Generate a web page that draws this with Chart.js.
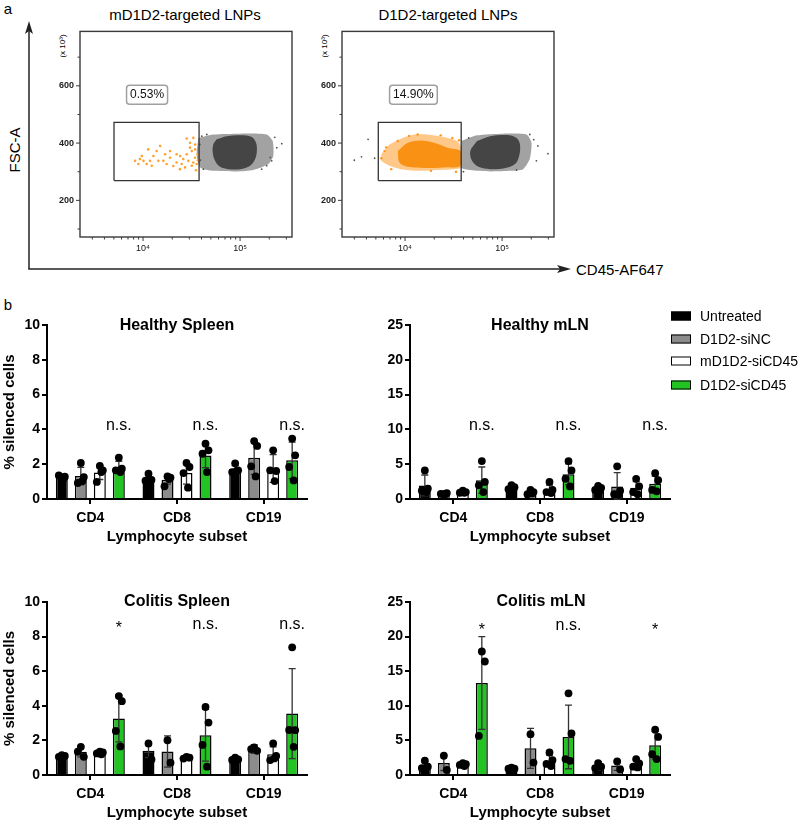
<!DOCTYPE html>
<html>
<head>
<meta charset="utf-8">
<script src="https://cdn.jsdelivr.net/npm/chart.js@4.4.0/dist/chart.umd.min.js"></script>
<style>
body{margin:0;background:#fff;font-family:"Liberation Sans",Arial,sans-serif;}
#page{position:relative;width:800px;height:825px;overflow:hidden;background:#fff;}
canvas{position:absolute;}
.t{position:absolute;white-space:nowrap;transform:translate(-50%,-50%);color:#000;line-height:1;}
.l{position:absolute;white-space:nowrap;transform:translate(0,-50%);color:#000;line-height:1;}
.rot{transform:translate(-50%,-50%) rotate(-90deg);}
.ttl{font-weight:bold;font-size:16px;}
.leg{position:absolute;left:671px;width:18px;height:7px;border:1.5px solid #000;transform:translate(0,-50%);}
</style>
</head>
<body>
<div id="page">
  <!-- panel a -->
  <div class="t" style="left:8px;top:8px;font-size:15px;">a</div>
  <div class="t" style="left:185px;top:14px;font-size:15px;">mD1D2-targeted LNPs</div>
  <div class="t" style="left:448px;top:14px;font-size:15px;">D1D2-targeted LNPs</div>
  <div class="t rot" style="left:14px;top:150px;font-size:15px;">FSC-A</div>
  <div class="l" style="left:576px;top:269px;font-size:15px;">CD45-AF647</div>
  <div class="t rot" style="left:63px;top:46px;font-size:8px;">(x 10³)</div>
  <div class="t rot" style="left:325px;top:46px;font-size:8px;">(x 10³)</div>
  <svg style="position:absolute;left:0;top:0" width="600" height="280">
    <line x1="29" y1="269" x2="29" y2="30" stroke="#222" stroke-width="1.5"/>
    <polygon points="29,21 25,34 29,31 33,34" fill="#222"/>
    <line x1="28.3" y1="269" x2="562" y2="269" stroke="#222" stroke-width="1.5"/>
    <polygon points="571,269 557,265 560,269 557,273" fill="#222"/>
  </svg>
  <canvas id="flowMd" width="262" height="245" style="left:40px;top:20px;"></canvas>
  <canvas id="flowD" width="262" height="245" style="left:302px;top:20px;"></canvas>

  <!-- panel b -->
  <div class="t" style="left:8px;top:304px;font-size:15px;">b</div>
  <canvas id="hs" width="340" height="249" style="left:0px;top:300px;"></canvas>
  <canvas id="hm" width="340" height="249" style="left:363px;top:300px;"></canvas>
  <canvas id="cs" width="340" height="248" style="left:0px;top:577px;"></canvas>
  <canvas id="cm" width="340" height="248" style="left:363px;top:577px;"></canvas>
  <div class="t ttl" style="left:177px;top:325px;">Healthy Spleen</div>
  <div class="t ttl" style="left:540px;top:325px;">Healthy mLN</div>
  <div class="t ttl" style="left:177px;top:601px;">Colitis Spleen</div>
  <div class="t ttl" style="left:541px;top:601px;">Colitis mLN</div>
  <div id="legend"></div>
</div>

<script>
// ---- panel a : flow cytometry (x = CD45-AF647, y = FSC-A x10^3) ----
const flowXMajor = [1e4, 1e5];
const flowXLabels = ['10⁴', '10⁵'];
const flowXMinor = [3000, 4000, 5000, 6000, 7000, 8000, 9000, 20000, 30000, 40000, 50000, 60000, 70000, 80000, 90000, 200000, 300000];
const flowYMajor = [200, 400, 600];
const flowYMinor = [100, 300, 500, 700];

const mdPercent = '0.53%';
const dPercent = '14.90%';

const mdGate = [{x:5020,y:269},{x:37800,y:269},{x:37800,y:472},{x:5020,y:472},{x:5020,y:269}];
const dGate = [{x:5300,y:269},{x:37900,y:269},{x:37900,y:472},{x:5300,y:472},{x:5300,y:269}];

// orange (gated) events, left plot
const mdOrange = [
  {x:28200,y:416},{x:33000,y:418},{x:34400,y:395},{x:30500,y:384},{x:31800,y:372},{x:28200,y:361},
  {x:24100,y:355},{x:26000,y:344},{x:29300,y:338},{x:33000,y:332},{x:25000,y:327},{x:22200,y:332},
  {x:19000,y:349},{x:16900,y:361},{x:15000,y:390},{x:13800,y:372},{x:12800,y:355},{x:11800,y:338},
  {x:12300,y:321},{x:10900,y:327},{x:10100,y:338},{x:9300,y:344},{x:8950,y:327},{x:9700,y:355},
  {x:11300,y:378},{x:17500,y:327},{x:16200,y:338},{x:22200,y:361},{x:27100,y:315},{x:24000,y:309},
  {x:8270,y:338},{x:34400,y:349},{x:35700,y:327},{x:31800,y:321},{x:34400,y:378},{x:19000,y:372},
  {x:14400,y:338},{x:30500,y:401},{x:36500,y:360},{x:36800,y:340},{x:35200,y:305},{x:20500,y:320}
];
// grey (ungated) population, left plot
const mdGreyCore = [
  {x:57500,y:413},{x:72900,y:424},{x:100000,y:427},{x:132000,y:421},{x:146000,y:401},{x:149000,y:372},
  {x:143000,y:344},{x:127000,y:321},{x:100000,y:309},{x:75800,y:309},{x:62200,y:317},{x:55200,y:338},
  {x:52300,y:367},{x:53000,y:395},{x:57500,y:413}
];
const mdGreyHalo = [
  {x:37200,y:418},{x:53100,y:430},{x:100000,y:433},{x:188000,y:430},{x:217000,y:407},{x:220000,y:355},
  {x:196000,y:327},{x:137000,y:306},{x:92500,y:301},{x:53100,y:303},{x:38700,y:315},{x:35700,y:361},
  {x:37200,y:418}
];
const mdGreyOut = [
  {x:269000,y:398},{x:212000,y:338},{x:188000,y:321},{x:40300,y:424},{x:239000,y:384},{x:167000,y:309},
  {x:41900,y:309},{x:45400,y:430},{x:228000,y:420},{x:205000,y:350},{x:39000,y:340},{x:38500,y:395}
];

// right plot
const dOrangeHalo = [
  {x:5690,y:361},{x:6920,y:395},{x:9480,y:418},{x:12500,y:430},{x:17100,y:430},{x:25200,y:421},
  {x:34500,y:407},{x:37900,y:384},{x:37900,y:315},{x:31800,y:309},{x:21500,y:306},{x:13500,y:303},
  {x:9100,y:309},{x:6920,y:321},{x:5690,y:338},{x:5690,y:361}
];
const dOrangeCore = [
  {x:8420,y:372},{x:10700,y:401},{x:14600,y:409},{x:19900,y:401},{x:27300,y:384},{x:37300,y:372},
  {x:37300,y:321},{x:25200,y:315},{x:15700,y:313},{x:10700,y:317},{x:8750,y:332},{x:8420,y:372}
];
const dOrangePts = [
  {x:6150,y:372},{x:8420,y:407},{x:30700,y:418},{x:5690,y:347},{x:23300,y:427},{x:13500,y:430},
  {x:7200,y:309},{x:6400,y:385},{x:11000,y:425},{x:33500,y:300},{x:18500,y:303},{x:36000,y:410}
];
const dGreyCore = [
  {x:55200,y:407},{x:75600,y:424},{x:112000,y:428},{x:141000,y:418},{x:153000,y:395},{x:150000,y:355},
  {x:136000,y:327},{x:103000,y:311},{x:75600,y:309},{x:57300,y:317},{x:49000,y:338},{x:47100,y:372},
  {x:55200,y:407}
];
const dGreyHalo = [
  {x:37900,y:407},{x:55200,y:427},{x:103000,y:433},{x:179000,y:430},{x:201000,y:401},{x:193000,y:344},
  {x:165000,y:309},{x:121000,y:303},{x:75600,y:301},{x:47100,y:306},{x:37900,y:315},{x:37900,y:407}
];
const dGreyOut = [
  {x:4160,y:413},{x:3000,y:340},{x:3560,y:352},{x:4860,y:347},{x:234000,y:390},{x:297000,y:363},
  {x:226000,y:338},{x:45300,y:418},{x:193000,y:430},{x:141000,y:306},{x:212000,y:412},{x:40000,y:300}
];

// ---- panel b : % silenced cells ----
const subsets = ['CD4', 'CD8', 'CD19'];
const groups = ['Untreated', 'D1D2-siNC', 'mD1D2-siCD45', 'D1D2-siCD45'];
const groupColors = ['#000000', '#8c8c8c', '#ffffff', '#22c322'];

// [group][subset]
const hsMean = [[1.25, 1.17, 1.72], [1.32, 1.1, 2.37], [1.52, 1.5, 1.75], [1.82, 2.5, 2.22]];
const hsSd = [[0.08, 0.2, 0.2], [0.5, 0.25, 0.95], [0.4, 0.65, 0.8], [0.35, 0.7, 1.05]];
const hsPts = [
  [[1.22, 1.28, 1.35, 1.18], [1.45, 1.1, 1.05, 1.1], [2.05, 1.65, 1.55, 1.62]],
  [[2.07, 1.26, 0.92, 1.03], [1.3, 1.23, 0.73, 1.15], [3.33, 3.05, 1.88, 1.3]],
  [[1.9, 1.65, 0.98, 1.55], [2.07, 1.84, 1.49, 0.65], [2.8, 1.61, 1.65, 1.03]],
  [[2.38, 1.74, 1.65, 1.55], [3.18, 2.8, 2.6, 1.55], [3.47, 2.51, 1.84, 1.07]]
];
const hsSig = ['n.s.', 'n.s.', 'n.s.'];

const hmMean = [[1.95, 1.6, 1.5], [0.75, 0.95, 1.8], [1.0, 1.4, 1.6], [2.7, 3.55, 2.2]];
const hmSd = [[1.5, 0.3, 0.35], [0.1, 0.25, 2.0], [0.2, 0.6, 0.9], [1.9, 1.5, 1.1]];
const hmPts = [
  [[4.1, 1.5, 1.2, 1.0], [2.0, 1.7, 1.4, 1.3], [1.9, 1.6, 1.3, 1.2]],
  [[0.7, 0.85, 0.75, 0.7], [1.3, 1.0, 0.7, 0.8], [4.7, 1.2, 0.7, 0.6]],
  [[1.2, 1.0, 0.9, 0.9], [2.45, 1.3, 1.0, 0.85], [2.9, 1.8, 1.0, 0.7]],
  [[5.45, 2.45, 1.96, 1.0], [5.45, 4.1, 2.9, 1.8], [3.7, 2.7, 1.3, 1.1]]
];
const hmSig = ['n.s.', 'n.s.', 'n.s.'];

const csMean = [[1.1, 1.4, 0.92], [1.35, 1.36, 1.5], [1.27, 1.0, 1.2], [3.26, 2.3, 3.55]];
const csSd = [[0.05, 0.4, 0.08], [0.3, 0.9, 0.25], [0.08, 0.06, 0.42], [1.35, 1.5, 2.6]];
const csPts = [
  [[1.15, 1.1, 1.05], [1.82, 0.9], [1.0, 0.9, 0.87]],
  [[1.63, 1.05, 1.35], [2.01, 0.71], [1.6, 1.4, 1.5]],
  [[1.35, 1.3, 1.25, 1.2], [1.05, 1.0, 0.95], [1.82, 1.1, 0.86, 0.98]],
  [[4.56, 4.27, 2.55, 1.65], [3.93, 3.03, 1.74, 0.48], [7.38, 2.59, 2.6, 1.63]]
];
const csSig = ['*', 'n.s.', 'n.s.'];

const cmMean = [[1.43, 0.96, 1.3], [1.75, 3.85, 1.38], [1.5, 2.06, 1.58], [13.3, 5.5, 4.3]];
const cmSd = [[0.5, 0.1, 0.6], [1.1, 2.9, 0.7], [0.15, 0.8, 0.6], [6.7, 4.6, 2.0]];
const cmPts = [
  [[2.06, 1.2, 1.0], [1.05, 0.9, 0.9], [1.72, 1.2, 1.0]],
  [[2.78, 0.72], [5.9, 1.8], [1.96, 0.8]],
  [[1.7, 1.55, 1.45, 1.3], [3.25, 2.15, 1.6, 1.3], [2.3, 1.67, 1.2, 1.1]],
  [[17.85, 16.4, 5.65], [11.8, 6.0, 2.3, 2.05], [6.55, 5.5, 3.0, 2.3]]
];
const cmSig = ['*', 'n.s.', '*'];

Chart.defaults.font.family = '"Liberation Sans", Arial, sans-serif';
Chart.defaults.color = '#000';

// legend
const legendBox = document.getElementById('legend');
const legendRows = [316, 339, 361, 385];
groups.forEach(function(g, i) {
  legendBox.innerHTML += '<div class="leg" style="top:' + legendRows[i] + 'px;background:' + groupColors[i] + ';"></div>' +
    '<div class="l" style="left:700px;top:' + legendRows[i] + 'px;font-size:14px;">' + g + '</div>';
});

// ---- flow plots ----
function polySet(data, color, tension) {
  return { type: 'line', data: data, showLine: true, fill: 'shape', backgroundColor: color,
           borderColor: 'rgba(0,0,0,0)', borderWidth: 0, pointRadius: 0, tension: tension };
}
function dotSet(data, color, r) {
  return { type: 'scatter', data: data, showLine: false, pointRadius: r, pointBorderWidth: 0,
           pointBackgroundColor: color, backgroundColor: color };
}

function flowChart(id, sets, label) {
  const decor = {
    id: 'flowDecor',
    afterDatasetsDraw(chart) {
      const ctx = chart.ctx, a = chart.chartArea, x = chart.scales.x, y = chart.scales.y;
      ctx.save();
      ctx.strokeStyle = '#3a3a3a';
      ctx.lineWidth = 1.4;
      ctx.strokeRect(a.left, a.top, a.right - a.left, a.bottom - a.top);
      ctx.lineWidth = 1;
      ctx.beginPath();
      flowXMajor.forEach(function(v) { const p = x.getPixelForValue(v); ctx.moveTo(p, a.bottom); ctx.lineTo(p, a.bottom + 4); });
      flowXMinor.forEach(function(v) { const p = x.getPixelForValue(v); ctx.moveTo(p, a.bottom); ctx.lineTo(p, a.bottom + 2.5); });
      flowYMajor.forEach(function(v) { const p = y.getPixelForValue(v); ctx.moveTo(a.left, p); ctx.lineTo(a.left - 4, p); });
      flowYMinor.forEach(function(v) { const p = y.getPixelForValue(v); ctx.moveTo(a.left, p); ctx.lineTo(a.left - 2.5, p); });
      ctx.stroke();
      // gate percentage box
      const bx = x.getPixelForValue(label.x), by = y.getPixelForValue(label.y);
      ctx.font = '12px "Liberation Sans", Arial, sans-serif';
      const w = ctx.measureText(label.text).width + 7, h = 19;
      ctx.beginPath();
      if (ctx.roundRect) ctx.roundRect(bx - w / 2, by - h / 2, w, h, 3); else ctx.rect(bx - w / 2, by - h / 2, w, h);
      ctx.fillStyle = '#fff';
      ctx.fill();
      ctx.strokeStyle = '#a0a0a0';
      ctx.lineWidth = 1.5;
      ctx.stroke();
      ctx.fillStyle = '#111';
      ctx.textAlign = 'center';
      ctx.textBaseline = 'middle';
      ctx.fillText(label.text, bx, by + 0.5);
      ctx.restore();
    }
  };
  new Chart(document.getElementById(id), {
    type: 'scatter',
    data: { datasets: sets },
    options: {
      responsive: false,
      animation: false,
      layout: { padding: { top: 9, right: 10, left: 0, bottom: 0 } },
      plugins: { legend: { display: false }, tooltip: { enabled: false } },
      scales: {
        x: {
          type: 'logarithmic', min: 2240, max: 343000,
          afterFit: function(s) { s.height = 28; },
          afterBuildTicks: function(s) { s.ticks = flowXMajor.map(function(v) { return { value: v }; }); },
          grid: { display: false, drawTicks: false },
          border: { display: false },
          ticks: { autoSkip: false, maxRotation: 0, padding: 6, font: { size: 9 }, color: '#111',
                   callback: function(v, i) { return flowXLabels[i]; } }
        },
        y: {
          type: 'linear', min: 72, max: 790,
          afterFit: function(s) { s.width = 40; },
          afterBuildTicks: function(s) { s.ticks = flowYMajor.map(function(v) { return { value: v }; }); },
          grid: { display: false, drawTicks: false },
          border: { display: false },
          ticks: { padding: 6, font: { size: 9, weight: 'bold' }, color: '#222' }
        }
      }
    },
    plugins: [decor]
  });
}

flowChart('flowMd', [
  { type: 'line', data: mdGate, showLine: true, fill: false, borderColor: '#333', borderWidth: 1.3, pointRadius: 0 },
  dotSet(mdOrange, '#ffa12e', 1.3),
  dotSet(mdGreyOut, '#555', 0.9),
  polySet(mdGreyCore, '#454545', 0.35),
  polySet(mdGreyHalo, 'rgba(70,70,70,0.5)', 0.2)
], { x: 11000, y: 569, text: mdPercent });

flowChart('flowD', [
  { type: 'line', data: dGate, showLine: true, fill: false, borderColor: '#333', borderWidth: 1.3, pointRadius: 0 },
  dotSet(dOrangePts, '#ff951a', 1.2),
  polySet(dOrangeCore, 'rgba(248,135,0,0.85)', 0.3),
  polySet(dOrangeHalo, 'rgba(255,145,20,0.5)', 0.2),
  dotSet(dGreyOut, '#555', 0.9),
  polySet(dGreyCore, '#454545', 0.35),
  polySet(dGreyHalo, 'rgba(70,70,70,0.5)', 0.2)
], { x: 12200, y: 569, text: dPercent });

// ---- bar charts ----
function barChart(id, mean, sd, pts, sig, yMax, yStep, sigLevel, yTitle) {
  const jit = [0, 3, -3, 1.5];
  const marks = {
    id: 'marks',
    afterDatasetsDraw(chart) {
      const ctx = chart.ctx, y = chart.scales.y;
      ctx.save();
      // error bars (mean ± SD)
      ctx.strokeStyle = '#333';
      ctx.lineWidth = 1.3;
      mean.forEach(function(row, d) {
        const meta = chart.getDatasetMeta(d);
        row.forEach(function(m, i) {
          const x = meta.data[i].x;
          const yt = y.getPixelForValue(m + sd[d][i]);
          const yb = y.getPixelForValue(Math.max(0, m - sd[d][i]));
          ctx.beginPath();
          ctx.moveTo(x, yb); ctx.lineTo(x, yt);
          ctx.moveTo(x - 3.5, yt); ctx.lineTo(x + 3.5, yt);
          ctx.moveTo(x - 3.5, yb); ctx.lineTo(x + 3.5, yb);
          ctx.stroke();
        });
      });
      // individual animals
      ctx.fillStyle = '#000';
      pts.forEach(function(row, d) {
        const meta = chart.getDatasetMeta(d);
        row.forEach(function(vals, i) {
          const x = meta.data[i].x;
          vals.forEach(function(v, k) {
            ctx.beginPath();
            ctx.arc(x + jit[k % jit.length], y.getPixelForValue(v), 3.9, 0, Math.PI * 2);
            ctx.fill();
          });
        });
      });
      // significance labels above the D1D2-siCD45 bars
      const gm = chart.getDatasetMeta(3);
      ctx.font = '16px "Liberation Sans", Arial, sans-serif';
      ctx.textAlign = 'center';
      ctx.textBaseline = 'alphabetic';
      sig.forEach(function(s, i) {
        const mt = ctx.measureText(s);
        const cy = y.getPixelForValue(sigLevel);
        ctx.fillText(s, gm.data[i].x, cy + (mt.actualBoundingBoxAscent - mt.actualBoundingBoxDescent) / 2);
      });
      ctx.restore();
    }
  };
  new Chart(document.getElementById(id), {
    type: 'bar',
    data: {
      labels: subsets,
      datasets: groups.map(function(g, d) {
        return { label: g, data: mean[d], backgroundColor: groupColors[d], borderColor: '#000',
                 borderWidth: 1.5, categoryPercentage: 0.877, barPercentage: 0.63 };
      })
    },
    options: {
      responsive: false,
      animation: false,
      layout: { padding: { top: 25, right: 33, left: 0, bottom: 0 } },
      plugins: { legend: { display: false }, tooltip: { enabled: false } },
      scales: {
        x: {
          afterFit: function(s) { s.height = 50; },
          grid: { offset: false, drawOnChartArea: false, tickLength: 5, lineWidth: 2, color: '#000' },
          border: { width: 2, color: '#000' },
          ticks: { padding: 6, font: { size: 14, weight: 'bold' }, color: '#000', maxRotation: 0 },
          title: { display: true, text: 'Lymphocyte subset', font: { size: 15, weight: 'bold' },
                   padding: { top: 0, bottom: 3 }, color: '#000' }
        },
        y: {
          min: 0, max: yMax,
          afterFit: function(s) { s.width = 47; },
          grid: { drawOnChartArea: false, tickLength: 5, lineWidth: 2, color: '#000' },
          border: { width: 2, color: '#000' },
          ticks: { stepSize: yStep, padding: 2, font: { size: 14, weight: 'bold' }, color: '#000' },
          title: { display: !!yTitle, text: yTitle || '', font: { size: 15, weight: 'bold' },
                   padding: { top: 1, bottom: 0 }, color: '#000' }
        }
      }
    },
    plugins: [marks]
  });
}

barChart('hs', hsMean, hsSd, hsPts, hsSig, 10, 2, 4.25, '% silenced cells');
barChart('hm', hmMean, hmSd, hmPts, hmSig, 25, 5, 10.6, '');
barChart('cs', csMean, csSd, csPts, csSig, 10, 2, 8.7, '% silenced cells');
barChart('cm', cmMean, cmSd, cmPts, cmSig, 25, 5, 21.6, '');
</script>
</body>
</html>
